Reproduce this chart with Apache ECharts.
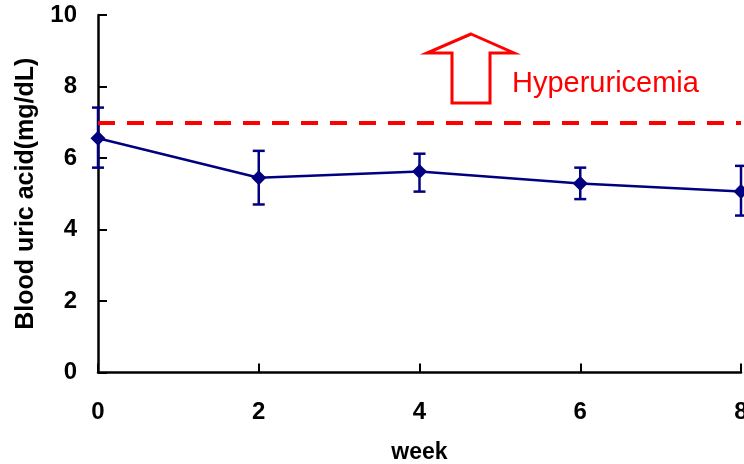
<!DOCTYPE html>
<html>
<head>
<meta charset="UTF-8" />
<title>Blood uric acid</title>
<script src="https://cdn.jsdelivr.net/npm/echarts@6/dist/echarts.min.js"></script>
<style>
    html, body { margin: 0; padding: 0; background: #fff; }
    #main { width: 744px; height: 464px; }
</style>
</head>
<body>
<div id="main"></div>
<script>
    // weeks and measured values (mean, lower / upper error)
    var weeks = [0, 2, 4, 6, 8];
    var meanVals = [6.55, 5.45, 5.62, 5.29, 5.06];
    var lowVals = [5.73, 4.70, 5.06, 4.85, 4.39];
    var highVals = [7.41, 6.20, 6.12, 5.73, 5.78];
    var threshold = 7;
    var xTicks = [0, 2, 4, 6, 8];
    var yTicks = [0, 2, 4, 6, 8, 10];

    var navy = '#000080';
    var font = '"Liberation Sans", Arial, sans-serif';

    var lineData = [];
    var errData = [];
    for (var i = 0; i < weeks.length; i++) {
        lineData.push([weeks[i], meanVals[i]]);
        errData.push([weeks[i], lowVals[i], highVals[i]]);
    }

    var myChart = echarts.init(document.getElementById('main'));

    myChart.setOption({
        animation: false,
        grid: { left: 98, right: 3, top: 15, bottom: 91.5, outerBoundsMode: 'none', containLabel: false },
        xAxis: {
            type: 'value',
            min: xTicks[0],
            max: xTicks[xTicks.length - 1],
            interval: 2,
            name: 'week',
            nameLocation: 'middle',
            nameGap: 69,
            nameTextStyle: { fontFamily: font, fontWeight: 'bold', fontSize: 23, color: '#000' },
            axisLine: { lineStyle: { color: '#000', width: 2.5 } },
            axisTick: { inside: true, length: 9, lineStyle: { color: '#000', width: 2 } },
            axisLabel: { margin: 28, fontFamily: font, fontWeight: 'bold', fontSize: 24, color: '#000' },
            splitLine: { show: false }
        },
        yAxis: {
            type: 'value',
            min: yTicks[0],
            max: yTicks[yTicks.length - 1],
            interval: 2,
            name: 'Blood uric acid(mg/dL)',
            nameLocation: 'middle',
            nameGap: 59,
            nameTextStyle: { fontFamily: font, fontWeight: 'bold', fontSize: 25, color: '#000' },
            axisLine: { show: true, lineStyle: { color: '#000', width: 2.5 } },
            axisTick: { show: true, inside: true, length: 9, lineStyle: { color: '#000', width: 2 } },
            axisLabel: { margin: 21, fontFamily: font, fontWeight: 'bold', fontSize: 24, color: '#000' },
            splitLine: { show: false }
        },
        graphic: [
            {
                type: 'polygon',
                shape: {
                    points: [[471, 34], [514, 53], [490, 53], [490, 103], [452, 103], [452, 53], [427, 53]]
                },
                style: { fill: 'none', stroke: '#ff0000', lineWidth: 3 }
            },
            {
                type: 'text',
                left: 512,
                top: 69,
                style: {
                    text: 'Hyperuricemia',
                    fill: '#ff0000',
                    font: '29px ' + font
                }
            }
        ],
        series: [
            {
                type: 'line',
                data: lineData,
                symbol: 'diamond',
                symbolSize: 15,
                lineStyle: { color: navy, width: 2.5 },
                itemStyle: { color: navy },
                z: 3,
                markLine: {
                    silent: true,
                    symbol: 'none',
                    label: { show: false },
                    lineStyle: { color: '#ff0000', type: [17, 12], width: 4 },
                    data: [{ yAxis: threshold }]
                }
            },
            {
                type: 'custom',
                data: errData,
                z: 4,
                renderItem: function (params, api) {
                    var x = api.value(0);
                    var lo = api.coord([x, api.value(1)]);
                    var hi = api.coord([x, api.value(2)]);
                    var w = 6;
                    var st = { stroke: navy, lineWidth: 2.5 };
                    return {
                        type: 'group',
                        children: [
                            { type: 'line', shape: { x1: lo[0], y1: lo[1], x2: hi[0], y2: hi[1] }, style: st },
                            { type: 'line', shape: { x1: hi[0] - w, y1: hi[1], x2: hi[0] + w, y2: hi[1] }, style: st },
                            { type: 'line', shape: { x1: lo[0] - w, y1: lo[1], x2: lo[0] + w, y2: lo[1] }, style: st }
                        ]
                    };
                }
            }
        ]
    });
</script>
</body>
</html>
